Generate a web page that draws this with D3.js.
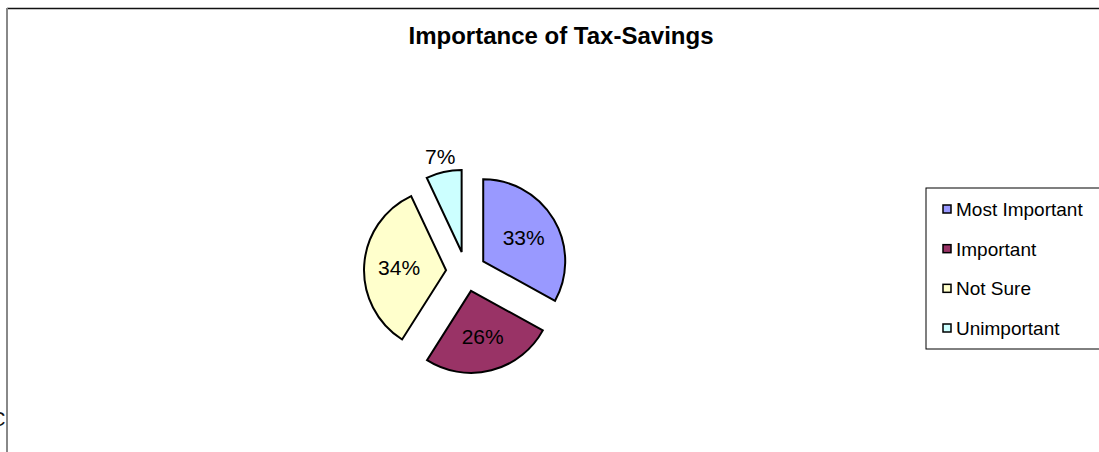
<!DOCTYPE html>
<html>
<head>
<meta charset="utf-8">
<script src="https://cdn.jsdelivr.net/npm/d3@7"></script>
<style>
  html, body { margin: 0; padding: 0; background: #fff; }
  svg { display: block; font-family: "Liberation Sans", Arial, sans-serif; }
</style>
</head>
<body>
<svg id="chart" width="1099" height="452"></svg>
<script>
// Survey answers on how important tax savings are
const categories = ["Most Important", "Important", "Not Sure", "Unimportant"];
const shares = [33, 26, 34, 7];
const colors = ["#9999ff", "#993366", "#ffffcc", "#ccffff"];
const title = "Importance of Tax-Savings";

const svg = d3.select("#chart");
const W = 1099, H = 452;

// Chart frame (clipped on the right and bottom)
svg.append("line").attr("x1", 7).attr("y1", 8.5).attr("x2", W).attr("y2", 8.5)
  .attr("stroke", "#111").attr("stroke-width", 1.5);
svg.append("line").attr("x1", 7).attr("y1", 8).attr("x2", 7).attr("y2", H)
  .attr("stroke", "#888").attr("stroke-width", 2);

// Fragment of neighbouring text to the left of the frame
svg.append("text").attr("x", -9).attr("y", 426)
  .attr("font-size", 20).attr("fill", "#111").text("C");

// Title
svg.append("text")
  .attr("x", 561).attr("y", 44)
  .attr("text-anchor", "middle")
  .attr("font-size", 24).attr("font-weight", "bold")
  .text(title);

// Exploded pie
const cx = 466, cy = 271.5, R = 82, explode = 20;
const pie = d3.pie().sort(null).value(d => d.v);
const arcs = pie(categories.map((c, i) => ({ c, v: shares[i], col: colors[i] })));
const arc = d3.arc().innerRadius(0).outerRadius(R);
const labelArc = d3.arc().innerRadius(47).outerRadius(47);
const outerLabelArc = d3.arc().innerRadius(R + 16).outerRadius(R + 16);

const g = svg.append("g").attr("transform", `translate(${cx},${cy})`);
const slices = g.selectAll("g.slice").data(arcs).join("g")
  .attr("class", "slice")
  .attr("transform", d => {
    const a = (d.startAngle + d.endAngle) / 2;
    return `translate(${explode * Math.sin(a)},${-explode * Math.cos(a)})`;
  });

slices.append("path")
  .attr("d", arc)
  .attr("fill", d => d.data.col)
  .attr("stroke", "#000").attr("stroke-width", 2)
  .attr("stroke-linejoin", "miter");

slices.append("text")
  .attr("transform", d => `translate(${(d.data.v < 10 ? outerLabelArc : labelArc).centroid(d)})`)
  .attr("text-anchor", "middle")
  .attr("dy", "0.36em")
  .attr("font-size", 21)
  .attr("fill", "#000")
  .text(d => d.data.v + "%");

// Legend
const lg = svg.append("g");
lg.append("rect").attr("x", 926).attr("y", 188).attr("width", 200).attr("height", 161)
  .attr("fill", "#fff").attr("stroke", "#000").attr("stroke-width", 1);
const rowY = d3.scalePoint().domain(categories).range([209, 328]);
const items = lg.selectAll("g.item").data(categories).join("g")
  .attr("class", "item")
  .attr("transform", d => `translate(0,${rowY(d)})`);
items.append("rect").attr("x", 943).attr("y", -4).attr("width", 8).attr("height", 8)
  .attr("fill", (d, i) => colors[i]).attr("stroke", "#000").attr("stroke-width", 1.5);
items.append("text").attr("x", 956).attr("y", 0).attr("dy", "0.36em")
  .attr("font-size", 19).text(d => d);
</script>
</body>
</html>
